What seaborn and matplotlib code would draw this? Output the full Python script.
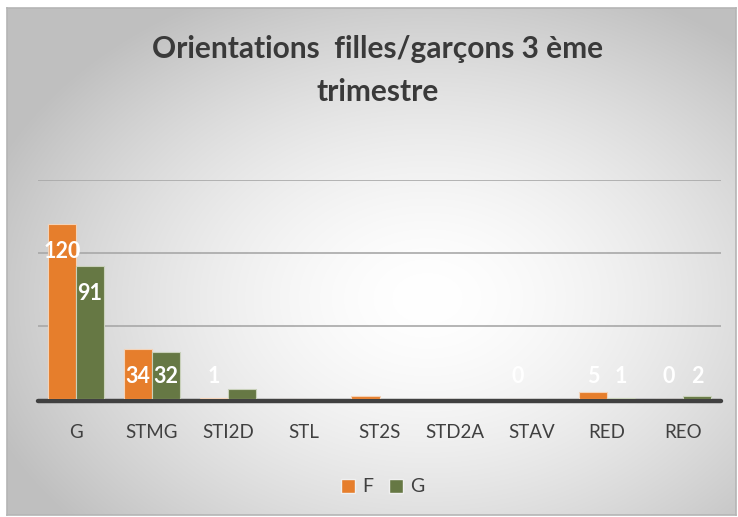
import numpy as np
import pandas as pd
import matplotlib.pyplot as plt
import matplotlib.patches as mpatches
import seaborn as sns

# data
filieres = ['G', 'STMG', 'STI2D', 'STL', 'ST2S', 'STD2A', 'STAV', 'RED', 'REO']
filles = [120, 34, 1, 0, 2, 0, 0, 5, 0]
garcons = [91, 32, 7, 0, 0, 0, 0, 1, 2]
# etiquettes visibles sur le graphique d'origine
lab_f = [1, 1, 1, 0, 0, 0, 1, 1, 1]
lab_g = [1, 1, 0, 0, 0, 0, 0, 1, 1]
series = ['F', 'G']
couleurs = ['#E67E2C', '#667844']

df = pd.DataFrame({
    'filiere': filieres * 2,
    'sexe': ['F'] * len(filieres) + ['G'] * len(filieres),
    'nb': filles + garcons,
})

sns.set_theme(style='white')
plt.rcParams['font.family'] = ['Lato', 'DejaVu Sans']

W, H = 738, 517
fig = plt.figure(figsize=(W / 100, H / 100), dpi=100)

# fond en degrade radial facon Excel
bg = fig.add_axes([7 / W, 1 - 515 / H, 729 / W, 507 / H], zorder=0)
yy, xx = np.mgrid[0:507, 0:729]
r = np.sqrt(((xx - 420) / 470) ** 2 + ((yy - 290) / 340) ** 2)
r = np.clip(r, 0, 1) ** 1.6
val = 1 - r * 0.25
img = np.dstack([val, val, val])
bg.imshow(img, aspect='auto', extent=[0, 1, 0, 1], origin='upper')
bg.set_xticks([])
bg.set_yticks([])
for s in bg.spines.values():
    s.set_color('#b5b5b5')
    s.set_linewidth(1.2)

ax = fig.add_axes([38 / W, 1 - 399 / H, 683 / W, 219 / H], zorder=1)
ax.patch.set_alpha(0)

sns.barplot(data=df, x='filiere', y='nb', hue='sexe', hue_order=series,
            palette=couleurs, width=0.74, ax=ax, legend=False,
            edgecolor='#f4d3b8', linewidth=0.8, zorder=3, saturation=1)

# bordure plus claire sur les barres vertes
for bar in ax.containers[1]:
    bar.set_edgecolor('#c9d1bb')

ax.set_ylim(0, 150)
ax.set_xlim(-0.5, len(filieres) - 0.5)
for g in [50, 100, 150]:
    ax.axhline(g, color='#a8a8a8', lw=1.2, zorder=1)
# ligne de base juste sous les barres
ax.axhline(-1.4, color='#404040', lw=3.2, zorder=2, clip_on=False)

for s in ax.spines.values():
    s.set_visible(False)
ax.set_yticks([])
ax.set_xlabel('')
ax.set_ylabel('')
ax.tick_params(axis='x', length=0, pad=18, labelsize=13.5, labelcolor='#404040')

# etiquettes de donnees
for cont, vals, show in zip(ax.containers, [filles, garcons], [lab_f, lab_g]):
    for bar, v, s in zip(cont, vals, show):
        if not s:
            continue
        x = bar.get_x() + bar.get_width() / 2
        y = max(v - 19, 15.5)
        ax.text(x, y, str(v), ha='center', va='center', color='white',
                fontsize=15.5, fontweight='bold', zorder=5)

fig.text(378 / W, 1 - 49 / H, 'Orientations  filles/garçons 3 ème',
         ha='center', va='center', fontsize=21.5, fontweight='bold', color='#3a3a3a')
fig.text(378 / W, 1 - 92 / H, 'trimestre',
         ha='center', va='center', fontsize=21.5, fontweight='bold', color='#3a3a3a')

handles = [mpatches.Patch(facecolor=c, edgecolor='#f0f0f0', label=s)
           for c, s in zip(couleurs, series)]
leg = fig.legend(handles=handles, loc='center', bbox_to_anchor=(383 / W, 1 - 487 / H),
                 ncol=2, frameon=False, fontsize=14, handlelength=0.7, handleheight=0.7,
                 handletextpad=0.4, columnspacing=0.8)
for t in leg.get_texts():
    t.set_color('#404040')

fig.savefig('out.png', dpi=100)
